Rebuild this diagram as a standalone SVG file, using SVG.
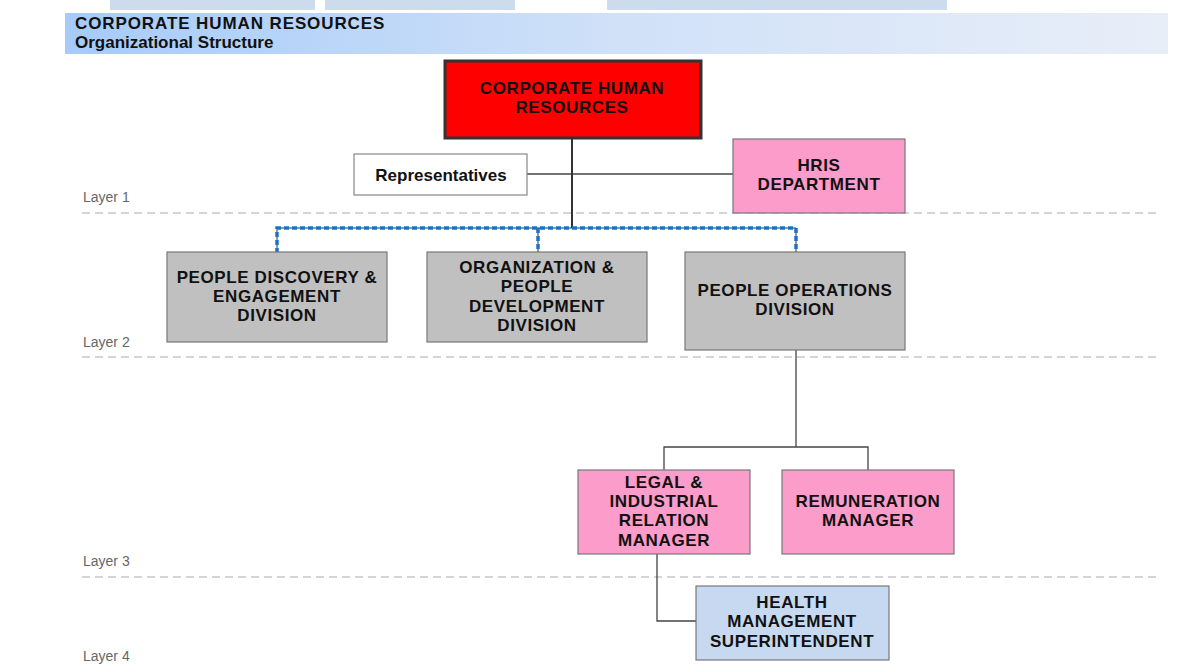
<svg xmlns="http://www.w3.org/2000/svg" width="1181" height="671" viewBox="0 0 1181 671">
<defs>
<linearGradient id="hdr" x1="0" y1="0" x2="1" y2="0">
<stop offset="0" stop-color="#a6cbf8"/>
<stop offset="0.5" stop-color="#d0e1f8"/>
<stop offset="1" stop-color="#e8eef8"/>
</linearGradient>
<style>
.t{font-family:"Liberation Sans",Arial,sans-serif;font-weight:bold;font-size:17px;fill:#111;text-anchor:middle;letter-spacing:0.6px}
.h{font-family:"Liberation Sans",Arial,sans-serif;font-weight:bold;font-size:17px;fill:#111}
.lay{font-family:"Liberation Sans",Arial,sans-serif;font-size:14px;fill:#666}
.dash{stroke:#c8c8c8;stroke-width:1.5;stroke-dasharray:8,5;fill:none}
.gray{fill:#c0c0c0;stroke:#777;stroke-width:1.2}
.pink{fill:#fb9ccb;stroke:#777;stroke-width:1.2}
.blue{fill:#c6d9f0;stroke:#777;stroke-width:1.2}
.ln{stroke:#444;stroke-width:1.3;fill:none}
</style>
</defs>
<rect width="1181" height="671" fill="#fff"/>
<g id="header">
<rect x="110" y="0" width="205" height="10" fill="#cddcec"/>
<rect x="325" y="0" width="190" height="10" fill="#cddcec"/>
<rect x="607" y="0" width="340" height="10" fill="#cddcec"/>
<rect x="65" y="13" width="1103" height="41" fill="url(#hdr)"/>
<text class="h" x="75" y="29" style="letter-spacing:0.9px">CORPORATE HUMAN RESOURCES</text>
<text class="h" x="75" y="48">Organizational Structure</text>
</g>
<g id="layers">
<line class="dash" x1="82" y1="213" x2="1160" y2="213"/>
<line class="dash" x1="82" y1="357" x2="1160" y2="357"/>
<line class="dash" x1="82" y1="577" x2="1160" y2="577"/>
<text class="lay" x="83" y="202">Layer 1</text>
<text class="lay" x="83" y="347">Layer 2</text>
<text class="lay" x="83" y="566">Layer 3</text>
<text class="lay" x="83" y="661">Layer 4</text>
</g>
<g id="connectors">
<line class="ln" x1="527" y1="174" x2="733" y2="174"/>
<line x1="572" y1="138" x2="572" y2="228" stroke="#333" stroke-width="2"/>
<path d="M277,253 V228 H796 V253 M538,228 V253" fill="none" stroke="#333" stroke-width="1"/>
<path d="M277,253 V228 H796 V253 M538,228 V253" fill="none" stroke="#1a73c8" stroke-width="3.5" stroke-dasharray="5,3"/>
<path class="ln" d="M796,350 V447 M664,470 V447 H868 V470"/>
<path class="ln" d="M657,554 V621 H696"/>
</g>
<g id="corp-hr">
<rect x="445" y="61" width="256" height="77" fill="#ff0000" stroke="#333" stroke-width="3"/>
<text class="t" x="572" y="94">CORPORATE HUMAN</text>
<text class="t" x="572" y="113">RESOURCES</text>
</g>
<g id="representatives">
<rect x="354" y="154" width="173" height="41" fill="#fff" stroke="#888" stroke-width="1.2"/>
<text class="t" x="441" y="181" style="letter-spacing:0">Representatives</text>
</g>
<g id="hris">
<rect x="733" y="139" width="172" height="74" class="pink"/>
<text class="t" x="819" y="171">HRIS</text>
<text class="t" x="819" y="190">DEPARTMENT</text>
</g>
<g id="pde">
<rect x="167" y="252" width="220" height="90" class="gray"/>
<text class="t" x="277" y="283">PEOPLE DISCOVERY &amp;</text>
<text class="t" x="277" y="302">ENGAGEMENT</text>
<text class="t" x="277" y="321">DIVISION</text>
</g>
<g id="opd">
<rect x="427" y="252" width="220" height="90" class="gray"/>
<text class="t" x="537" y="273">ORGANIZATION &amp;</text>
<text class="t" x="537" y="292">PEOPLE</text>
<text class="t" x="537" y="312">DEVELOPMENT</text>
<text class="t" x="537" y="331">DIVISION</text>
</g>
<g id="pod">
<rect x="685" y="252" width="220" height="98" class="gray"/>
<text class="t" x="795" y="296">PEOPLE OPERATIONS</text>
<text class="t" x="795" y="315">DIVISION</text>
</g>
<g id="legal">
<rect x="578" y="470" width="172" height="84" class="pink"/>
<text class="t" x="664" y="488">LEGAL &amp;</text>
<text class="t" x="664" y="507">INDUSTRIAL</text>
<text class="t" x="664" y="526">RELATION</text>
<text class="t" x="664" y="546">MANAGER</text>
</g>
<g id="remuneration">
<rect x="782" y="470" width="172" height="84" class="pink"/>
<text class="t" x="868" y="507">REMUNERATION</text>
<text class="t" x="868" y="526">MANAGER</text>
</g>
<g id="health">
<rect x="696" y="586" width="193" height="74" class="blue"/>
<text class="t" x="792" y="608">HEALTH</text>
<text class="t" x="792" y="627">MANAGEMENT</text>
<text class="t" x="792" y="647">SUPERINTENDENT</text>
</g>
</svg>
